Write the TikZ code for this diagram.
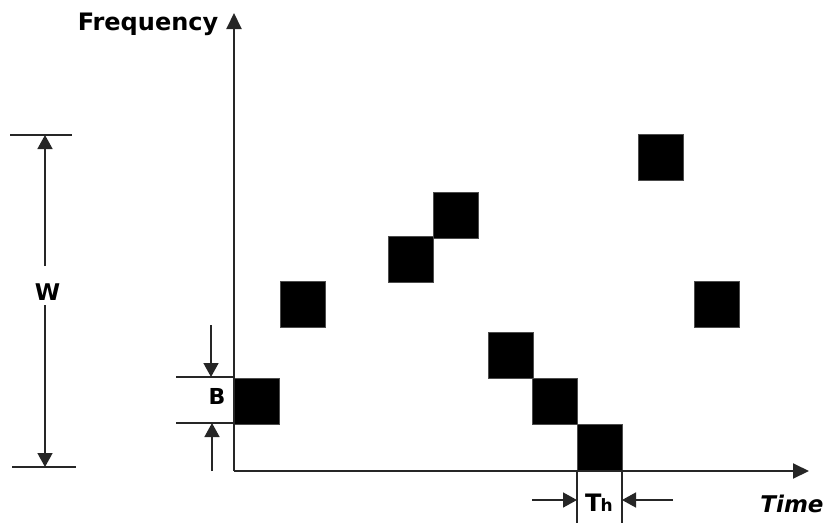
\documentclass[tikz,border=0pt]{standalone}
\usepackage{fontspec}
\setmainfont{DejaVu Sans}
\usetikzlibrary{arrows.meta}

\begin{document}
\begin{tikzpicture}[x=1pt,y=-1pt,
  axis/.style={line width=2pt, draw=black!85, -{Triangle[length=16pt,width=15pt]}},
  dimarrow/.style={line width=1.6pt, draw=black!85, -{Triangle[length=14pt,width=15pt]}},
  guide/.style={line width=1.6pt, draw=black!85},
  hop/.style={rectangle, fill=black, draw=black!70, line width=0.8pt, inner sep=0pt,
              minimum width=45pt, minimum height=46pt, anchor=north west},
  lbl/.style={inner sep=0pt, anchor=base}]
\useasboundingbox (0,0) rectangle (829,525);

% frequency-hopping slots
\node[hop] (s1) at (234,378) {};
\node[hop] (s2) at (280,281) {};
\node[hop] (s3) at (388,236) {};
\node[hop] (s4) at (433,192) {};
\node[hop] (s5) at (638,134) {};
\node[hop] (s6) at (694,281) {};
\node[hop] (s7) at (488,332) {};
\node[hop] (s8) at (532,378) {};
\node[hop] (s9) at (577,424) {};

% axes
\coordinate (O) at (234,471);
\coordinate (ytip) at (234,13);
\coordinate (xtip) at (809,471);
\draw[axis] (O) -- (ytip);
\draw[axis] (O) -- (xtip);
\node[lbl, font=\bfseries\fontsize{24}{24}\selectfont] (freq) at (148,30) {Frequency};
\node[lbl, font=\bfseries\itshape\fontsize{23}{23}\selectfont] (time) at (792,512) {Time};

% total bandwidth W
\coordinate (wtl) at (10,135);  \coordinate (wtr) at (72,135);
\coordinate (wbl) at (12,467);  \coordinate (wbr) at (76,467);
\coordinate (wt) at (45,135);   \coordinate (wb) at (45,467);
\coordinate (wa) at (45,266);   \coordinate (wc) at (45,305);
\draw[guide] (wtl) -- (wtr);
\draw[guide] (wbl) -- (wbr);
\draw[dimarrow] (wa) -- (wt);
\draw[dimarrow] (wc) -- (wb);
\node[lbl, font=\bfseries\fontsize{23}{23}\selectfont] (w) at (47.5,300) {W};

% slot bandwidth B
\coordinate (btl) at (176,377); \coordinate (btr) at (234,377);
\coordinate (bbl) at (176,423); \coordinate (bbr) at (234,423);
\coordinate (ba) at (211,325);  \coordinate (bt) at (211,377);
\coordinate (bc) at (212,471);  \coordinate (bb) at (212,423);
\draw[guide] (btl) -- (btr);
\draw[guide] (bbl) -- (bbr);
\draw[dimarrow] (ba) -- (bt);
\draw[dimarrow] (bc) -- (bb);
\node[lbl, font=\bfseries\fontsize{22}{22}\selectfont] (b) at (217,404) {B};

% hop duration Th
\coordinate (tl0) at (577,471); \coordinate (tl1) at (577,523);
\coordinate (tr0) at (622,471); \coordinate (tr1) at (622,523);
\draw[guide] (tl0) -- (tl1);
\draw[guide] (tr0) -- (tr1);
\coordinate (ta) at (532,500);  \coordinate (tat) at (577,500);
\coordinate (tb) at (673,500);  \coordinate (tbt) at (622,500);
\draw[dimarrow] (ta) -- (tat);
\draw[dimarrow] (tb) -- (tbt);
\node[lbl, anchor=base west, font=\bfseries\fontsize{24}{24}\selectfont] (th) at (585,511)
  {T\kern-1pt{\fontsize{17}{17}\selectfont h}};
\end{tikzpicture}
\end{document}
